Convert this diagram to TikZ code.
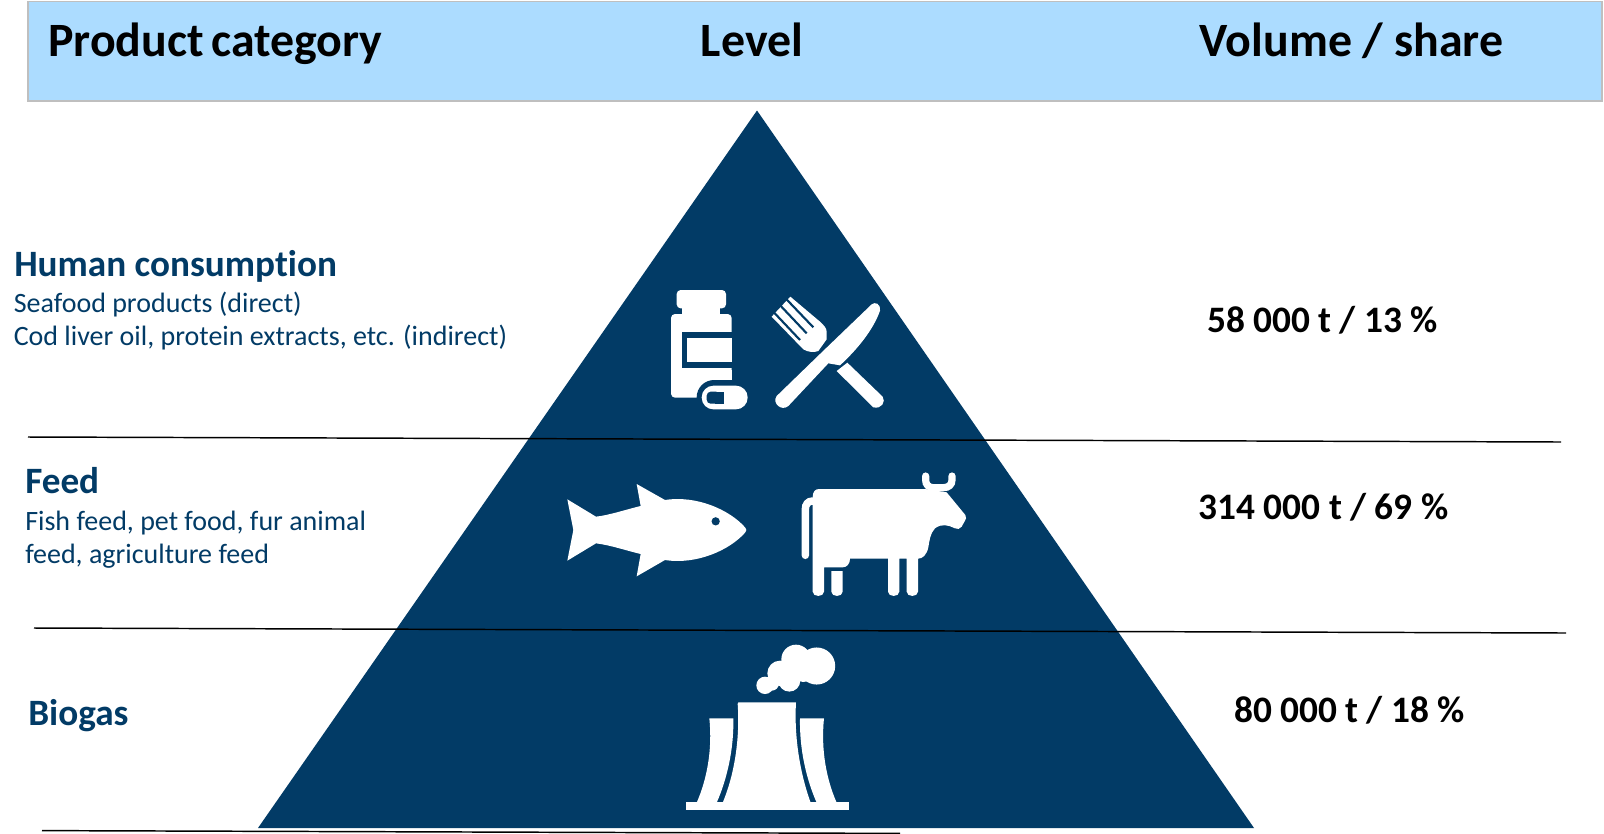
\documentclass[tikz,border=0pt]{standalone}
\usepackage{fontspec}
\setmainfont[Ligatures=NoCommon]{Carlito}
\definecolor{navy}{HTML}{023B66}
\definecolor{headfill}{HTML}{ACDCFF}
\definecolor{headline}{HTML}{BFBFBF}
\tikzset{
  hdr/.style={anchor=base,inner sep=0pt,font=\fontsize{35.9}{36}\selectfont\bfseries,text=black},
  cat/.style={anchor=base west,inner sep=0pt,font=\fontsize{27.9}{28}\selectfont\bfseries,text=navy},
  sub/.style={anchor=base west,inner sep=0pt,font=\fontsize{21}{21}\selectfont,text=navy},
  val/.style={anchor=base,inner sep=0pt,font=\fontsize{28}{28}\selectfont\bfseries,text=black},
  sep/.style={draw=black,line width=1.1pt},
  icon/.style={x=0.25pt,y=-0.25pt},
  wht/.style={fill=white,draw=none},
  drk/.style={fill=navy,draw=none},
}
\begin{document}
\begin{tikzpicture}[x=0.75pt,y=-0.75pt]
\useasboundingbox (0,0) rectangle (1604,833);
\path[fill=white] (0,0) rectangle (1604,833);
% header
\path[fill=headfill,draw=headline,line width=1.2pt] (28,1.5) rectangle (1602,101);
\node[hdr,anchor=base west] (h1) at (48,56) {Product\hspace{-0.07em} category};
\node[hdr] (h2) at (752,56) {Level};
\node[hdr] (h3) at (1351.5,56) {Volume / share};
% pyramid
\path[fill=navy] (757,110.5) -- (1254,828) -- (258,828) -- cycle;
% separators
\coordinate (s1a) at (28,437); \coordinate (s1b) at (1561,442);
\coordinate (s2a) at (34,628); \coordinate (s2b) at (1566,633);
\coordinate (s3a) at (42,830.6); \coordinate (s3b) at (900,833.4);
\draw[sep] (s1a) -- (s1b);
\draw[sep] (s2a) -- (s2b);
\draw[sep] (s3a) -- (s3b);
% labels
\node[cat] (c1) at (14,276) {Human consumption};
\node[sub] (c1a) at (13.5,312) {Seafood products (direct)};
\node[sub] (c1b) at (13.5,345) {Cod liver oil, protein extracts, etc. (indirect)};
\node[cat] (c2) at (25,493) {Feed};
\node[sub] (c2a) at (25,530) {Fish feed, pet food, fur animal};
\node[sub] (c2b) at (25,563) {feed, agriculture feed};
\node[cat] (c3) at (28,725) {Biogas};
\node[val] (v1) at (1322.5,332.5) {58 000 t / 13 \%};
\node[val] (v2) at (1323.5,519) {314 000 t / 69 \%};
\node[val] (v3) at (1349.5,722) {80 000 t / 18 \%};
% bottle + pill
\begin{scope}[shift={(640,270)},icon]
  \path[wht,rounded corners=3pt] (110,60) rectangle (258,115);
  \path[wht] (127,110) rectangle (240,140);
  \path[wht,rounded corners=3pt] (93,132) rectangle (275,383);
  \path[wht] (200,300) rectangle (275,383);
  \path[drk] (127,186) rectangle (276,293);
  \path[wht] (142,204) rectangle (275,277);
  % halo and pill
  \path[drk,rounded corners=13pt] (170,330) rectangle (345,440);
  \path[wht,rounded corners=8.8pt] (185,347) rectangle (323,418);
  \path[drk,rounded corners=3pt] (200,365) rectangle (240,401);
  \path[drk] (225,365) rectangle (253,401);
  % fork
  \path[wht,line join=round] (451,80) -- (540,155) .. controls (552,166) and (560,175) .. (560,185)
     -- (560,208) -- (535,243) .. controls (522,248) and (505,247) .. (490,238)
     -- (395,140) -- cycle;
  \draw[navy,line width=1.6pt] (393,118) -- (480,210);
  \draw[navy,line width=1.6pt] (412,97) -- (500,190);
  \draw[navy,line width=1.6pt] (430,78) -- (520,172);
  % fork handle
  \path[wht] (590,303) -- (622,278) -- (728,380) .. controls (738,395) and (725,418) .. (700,412) -- cycle;
  % knife
  \path[wht] (542,250) -- (695,103) .. controls (705,95) and (722,100) .. (720,122)
    .. controls (700,180) and (650,240) .. (600,286) -- (565,280)
    -- (445,408) .. controls (425,425) and (395,400) .. (410,378) -- cycle;
\end{scope}
% fish and cow
\begin{scope}[shift={(550,460)},icon]
  \path[wht] (52,118) -- (138,170) .. controls (180,165) and (230,148) .. (272,138)
    -- (260,72) -- (345,120) .. controls (440,105) and (540,150) .. (586,203)
    .. controls (590,208) and (590,212) .. (586,217)
    .. controls (540,270) and (440,315) .. (345,300)
    -- (260,349) -- (272,282) .. controls (230,272) and (180,255) .. (138,250)
    -- (52,302) -- (70,210) -- cycle;
  \path[drk] (497,184) circle (3.1pt);
  % cow
  \path[wht] (788,112) .. controls (788,95) and (795,87) .. (808,87) -- (1125,87)
    -- (1190,97) -- (1246,165) .. controls (1250,172) and (1248,178) .. (1245,182)
    -- (1235,200) .. controls (1230,208) and (1222,208) .. (1215,205)
    .. controls (1195,195) and (1175,190) .. (1155,205)
    .. controls (1140,220) and (1138,245) .. (1135,262)
    .. controls (1130,285) and (1118,296) .. (1104,296)
    -- (1104,395) .. controls (1104,412) and (1070,412) .. (1070,395)
    -- (1070,296) -- (1048,296) -- (1048,395)
    .. controls (1048,412) and (1014,412) .. (1014,395)
    -- (1014,296) -- (900,296) .. controls (900,312) and (890,322) .. (878,322)
    -- (822,322) -- (822,395) .. controls (822,412) and (788,412) .. (788,395) -- cycle;
  \path[wht] (844,333) -- (878,333) -- (878,395) .. controls (878,412) and (844,412) .. (844,395) -- cycle;
  % tail
  \draw[white,line width=5.6pt,line cap=round] (788,123) .. controls (774,123) and (766,133) .. (766,148) -- (766,286);
  % horns
  \draw[white,line width=5.4pt,line cap=round] (1127,48) -- (1127,60) .. controls (1127,74) and (1136,83) .. (1150,83) -- (1180,83) .. controls (1196,83) and (1206,74) .. (1206,60) -- (1206,48);
\end{scope}
% power plant
\begin{scope}[shift={(670,630)},icon]
  \path[wht] (48,517) rectangle (537,540);
  \path[wht] (205,217) -- (378,217) .. controls (372,320) and (390,430) .. (422,518)
    -- (158,518) .. controls (195,430) and (210,320) .. (203,222) -- cycle;
  \path[wht] (118,265) -- (190,265) .. controls (192,360) and (170,450) .. (140,518)
    -- (80,518) .. controls (110,450) and (128,360) .. (118,265) -- cycle;
  \path[wht] (390,265) -- (462,265) .. controls (452,360) and (470,450) .. (500,518)
    -- (440,518) .. controls (410,450) and (388,360) .. (390,265) -- cycle;
  % smoke
  \path[wht] (440,108) circle (13.9pt);
  \path[wht] (378,88) circle (11pt);
  \path[wht] (330,130) circle (9.5pt);
  \path[wht] (358,152) circle (8.2pt);
  \path[wht] (400,120) circle (9pt);
  \path[wht] (285,166) circle (6.5pt);
  \path[wht] (305,160) circle (5.5pt);
\end{scope}
\end{tikzpicture}
\end{document}
